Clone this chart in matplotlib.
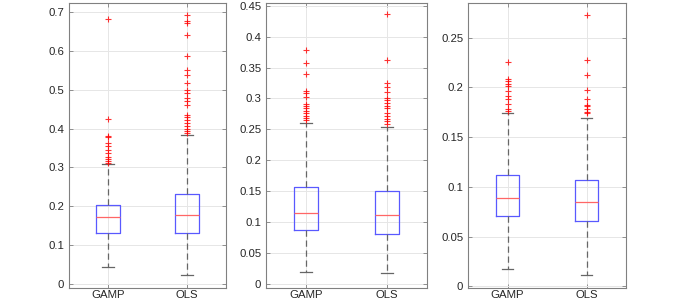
import matplotlib
matplotlib.use("Agg")
import matplotlib.pyplot as plt

# -------------------------------------------
# Data
# -------------------------------------------
methods = ["GAMP", "OLS"]

# panel 1
p1_low = [0.043, 0.023]
p1_q1 = [0.131, 0.131]
p1_med = [0.172, 0.178]
p1_q3 = [0.202, 0.232]
p1_high = [0.310, 0.383]
p1_out_gamp = [0.311, 0.316, 0.322, 0.328, 0.337, 0.344, 0.354, 0.363,
               0.378, 0.382, 0.426, 0.683]
p1_out_ols = [0.388, 0.395, 0.400, 0.406, 0.414, 0.423, 0.430, 0.436,
              0.462, 0.471, 0.479, 0.491, 0.500, 0.517, 0.538, 0.551,
              0.587, 0.641, 0.673, 0.678, 0.692]

# panel 2
p2_low = [0.019, 0.017]
p2_q1 = [0.0877, 0.081]
p2_med = [0.114, 0.111]
p2_q3 = [0.157, 0.150]
p2_high = [0.260, 0.253]
p2_out_gamp = [0.265, 0.268, 0.272, 0.276, 0.280, 0.284, 0.2885, 0.291,
               0.3025, 0.308, 0.312, 0.340, 0.358, 0.379]
p2_out_ols = [0.258, 0.263, 0.267, 0.272, 0.276, 0.284, 0.287, 0.293,
              0.298, 0.300, 0.310, 0.318, 0.325, 0.363, 0.437]

# panel 3
p3_low = [0.0174, 0.0114]
p3_q1 = [0.0706, 0.0656]
p3_med = [0.089, 0.0853]
p3_q3 = [0.1124, 0.107]
p3_high = [0.1744, 0.169]
p3_out_gamp = [0.176, 0.178, 0.183, 0.188, 0.191, 0.196, 0.2018, 0.203,
               0.206, 0.208, 0.2256]
p3_out_ols = [0.174, 0.1757, 0.178, 0.181, 0.182, 0.188, 0.197, 0.2125,
              0.228, 0.2724]

panels = [
    (p1_low, p1_q1, p1_med, p1_q3, p1_high, [p1_out_gamp, p1_out_ols],
     (-0.0103, 0.724), [0, 0.1, 0.2, 0.3, 0.4, 0.5, 0.6, 0.7]),
    (p2_low, p2_q1, p2_med, p2_q3, p2_high, [p2_out_gamp, p2_out_ols],
     (-0.0065, 0.4545), [0, 0.05, 0.1, 0.15, 0.2, 0.25, 0.3, 0.35, 0.4, 0.45]),
    (p3_low, p3_q1, p3_med, p3_q3, p3_high, [p3_out_gamp, p3_out_ols],
     (-0.0013, 0.2848), [0, 0.05, 0.1, 0.15, 0.2, 0.25]),
]

# axes rectangles in figure fractions
rects = [
    [0.1024, 0.0505, 0.2329, 0.9396],
    [0.3947, 0.0505, 0.2389, 0.9396],
    [0.6944, 0.0505, 0.2344, 0.9396],
]

fig = plt.figure(figsize=(6.74, 3.03), dpi=100)
plt.rcParams['font.family'] = ['Liberation Sans', 'DejaVu Sans']

for rect, (low, q1, med, q3, high, outs, ylim, yticks) in zip(rects, panels):
    ax = fig.add_axes(rect)
    stats = []
    for i, name in enumerate(methods):
        stats.append(dict(label=name, whislo=low[i], q1=q1[i], med=med[i],
                          q3=q3[i], whishi=high[i], fliers=outs[i]))
    ax.bxp(stats, positions=[1, 2], widths=0.3, showfliers=True,
           boxprops=dict(color=(0.35, 0.35, 1.0), linewidth=0.9),
           medianprops=dict(color=(1.0, 0.4, 0.4), linewidth=0.9),
           whiskerprops=dict(color=(0.4, 0.4, 0.4), linewidth=0.9,
                             linestyle=(0, (5, 3))),
           capprops=dict(color=(0.4, 0.4, 0.4), linewidth=0.9),
           capwidths=0.15,
           flierprops=dict(marker='+', markeredgecolor='red',
                           markersize=5, markeredgewidth=0.8, alpha=0.8))
    ax.set_xlim(0.5, 2.5)
    ax.set_ylim(*ylim)
    ax.set_yticks(yticks)
    ax.set_yticklabels([f"{t:g}" for t in yticks])
    ax.grid(True, color=(0.9, 0.9, 0.9), linewidth=0.7)
    ax.set_axisbelow(True)
    ax.tick_params(direction='in', length=3, width=0.6, colors=(0.5, 0.5, 0.5),
                   labelcolor=(0.15, 0.15, 0.15), labelsize=8.2,
                   right=True, top=True)
    ax.tick_params(axis='x', pad=2)
    for s in ax.spines.values():
        s.set_color((0.5, 0.5, 0.5))
        s.set_linewidth(0.8)

fig.savefig("out.png", dpi=100)
